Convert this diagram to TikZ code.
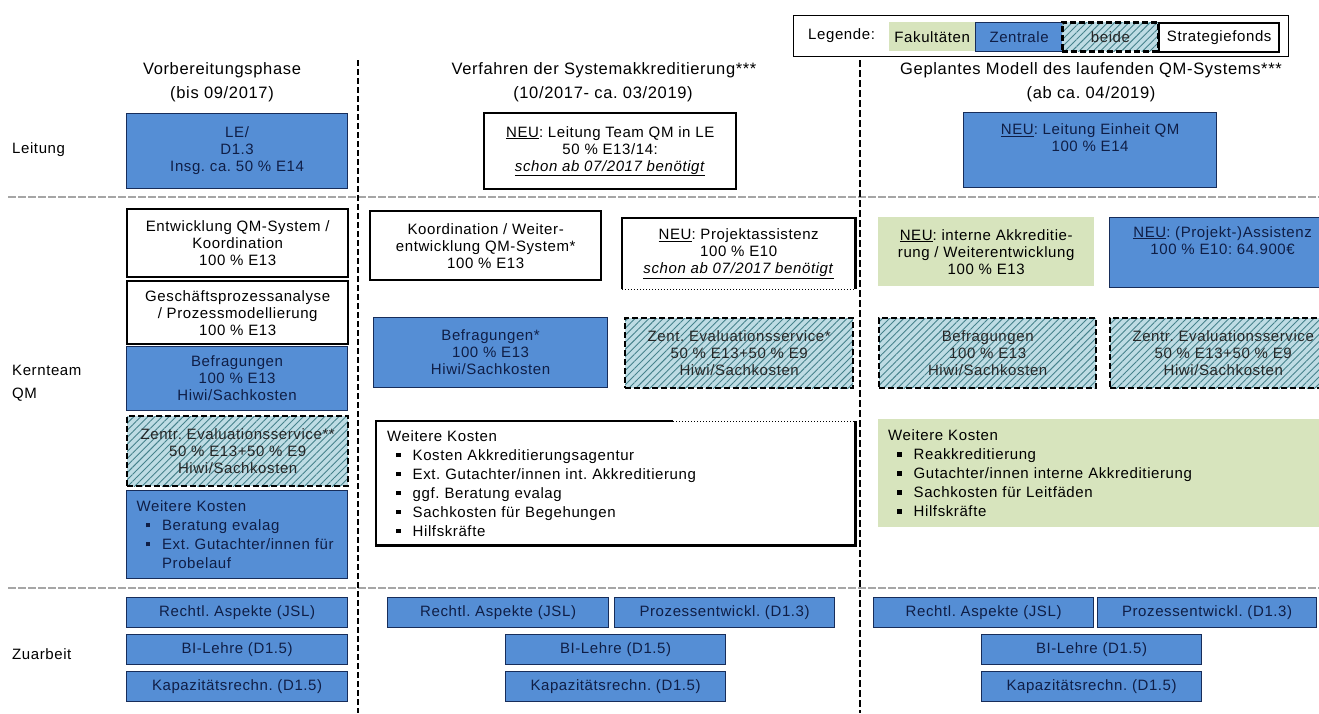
\documentclass[tikz,border=0pt]{standalone}
\usepackage{fontspec}
\setmainfont{Liberation Sans}[LetterSpace=4]
\usetikzlibrary{patterns.meta}
\frenchspacing

\definecolor{zblau}{RGB}{85,142,213}
\definecolor{zrand}{RGB}{23,45,90}
\definecolor{ztext}{RGB}{15,30,70}
\definecolor{fgruen}{RGB}{215,228,189}
\definecolor{hgrund}{RGB}{190,220,228}
\definecolor{hlinie}{RGB}{70,130,140}

\newcommand\boxfont{\fontsize{15}{17}\selectfont}
\newcommand\listfont{\fontsize{15}{19}\selectfont}
\newcommand\headfont{\fontsize{16.5}{24}\selectfont}
\newcommand\qmbullet{\rule[3pt]{4.5pt}{4.5pt}}
\newcommand\qmitem{\hspace*{9pt}\qmbullet\hspace{12pt}}

\begin{document}
\begin{tikzpicture}[x=1pt, y=-1pt,
zen/.style={rectangle, draw=zrand, line width=1.2pt, fill=zblau, text=ztext, font=\boxfont, align=center, inner sep=2pt, anchor=north west},
fak/.style={rectangle, fill=fgruen, font=\boxfont, align=center, inner sep=2pt, anchor=north west},
beide/.style={rectangle, draw=black, line width=2.4pt, dash pattern=on 6pt off 3pt, preaction={fill=hgrund}, pattern color=hlinie, pattern={Lines[angle=45,distance=5pt,line width=0.9pt]}, text=black!85, font=\boxfont, align=center, inner sep=2pt, anchor=north west},
strat/.style={rectangle, draw=black, line width=2.4pt, fill=white, font=\boxfont, align=center, inner sep=2pt, anchor=north west},
lab/.style={font=\boxfont, inner sep=0pt},
head/.style={font=\headfont, inner sep=0pt},
spalte/.style={draw=black, line width=2.6pt, dash pattern=on 6pt off 3pt},
trenn/.style={draw=black!35, line width=1.5pt, dash pattern=on 8pt off 2pt}]

\useasboundingbox (0,0) rectangle (1319,713);
\clip (0,0) rectangle (1319,713);

% Trennlinien
\coordinate (v1o) at (358,60); \coordinate (v1u) at (358,713);
\coordinate (v2o) at (860,60); \coordinate (v2u) at (860,713);
\coordinate (h1l) at (8,197); \coordinate (h1r) at (1319,197);
\coordinate (h2l) at (8,588); \coordinate (h2r) at (1319,588);
\draw[trenn] (h1l) -- (h1r);
\draw[trenn] (h2l) -- (h2r);
\draw[spalte] (v1o) -- (v1u);
\draw[spalte, line width=1.1pt, dash pattern=on 7pt off 3pt] (v2o) -- (v2u);

% Legende
\node[rectangle, draw=black, line width=1.3pt, minimum width=495pt, minimum height=41pt, anchor=north west] at (793,15) (legende) {};
\node[lab, anchor=west] at (808,35.5) (legtxt) {Legende:};
\node[fak, minimum width=86pt, minimum height=29pt] at (889,22) (legfak) {Fakultäten};
\node[zen, minimum width=87pt, minimum height=29pt] at (975,22) (legzen) {Zentrale};
\node[beide, minimum width=96pt, minimum height=29pt] at (1062,22) (legbeide) {beide};
\node[strat, minimum width=120pt, minimum height=29pt] at (1158,22) (legstrat) {Strategiefonds};

% Spaltenkoepfe
\node[head] at (222,70) (kopf1) {Vorbereitungsphase};
\node[head] at (222,94) (zeit1) {(bis 09/2017)};
\node[head] at (604,70) (kopf2) {Verfahren der Systemakkreditierung***};
\node[head] at (603,94) (zeit2) {(10/2017- ca. 03/2019)};
\node[head] at (1091,70) (kopf3) {Geplantes Modell des laufenden QM-Systems***};
\node[head] at (1091,94) (zeit3) {(ab ca. 04/2019)};

% Zeilen
\node[lab, anchor=west] at (12,150) (leitung) {Leitung};
\node[lab, anchor=west, align=left] at (12,383) (kernteam) {Kernteam\\[6pt]QM};
\node[lab, anchor=west] at (12,654) (zuarbeit) {Zuarbeit};

% Leitung
\node[zen, minimum width=221pt, minimum height=75pt] at (126,113) (le) {LE/\\D1.3\\Insg. ca. 50 \% E14};
\node[strat, minimum width=252pt, minimum height=76pt] at (483,112) (leitteam) {\underline{NEU}: Leitung Team QM in LE\\50 \% E13/14:\\\underline{\textit{schon ab 07/2017 benötigt}}};
\node[zen, minimum width=253pt, minimum height=75pt] at (963,112) (leiteinheit) {\underline{NEU}: Leitung Einheit QM\\100 \% E14\\[8pt]~};

% Kernteam QM, Vorbereitung
\node[strat, minimum width=221pt, minimum height=68pt] at (126,208) (entw) {Entwicklung QM-System /\\Koordination\\100 \% E13};
\node[strat, minimum width=221pt, minimum height=63pt] at (126,280) (gpa) {Geschäftsprozessanalyse\\/ Prozessmodellierung\\100 \% E13};
\node[zen, minimum width=221pt, minimum height=64pt] at (126,346) (befr1) {Befragungen\\100 \% E13\\Hiwi/Sachkosten};
\node[beide, minimum width=221pt, minimum height=70pt] at (126,415) (eval1) {Zentr. Evaluationsservice**\\50 \% E13+50 \% E9\\Hiwi/Sachkosten};
\node[zen, minimum width=221pt, minimum height=88pt, text width=201pt, align=left, font=\listfont] at (126,490) (wk1) {Weitere Kosten\\\qmitem Beratung evalag\\\qmitem Ext. Gutachter/innen für\\\hspace*{25.5pt}Probelauf};

% Kernteam QM, Systemakkreditierung
\node[strat, minimum width=231pt, minimum height=69pt] at (369,210) (koord) {Koordination / Weiter-\\entwicklung QM-System*\\100 \% E13};
\node[strat, draw=none, minimum width=231pt, minimum height=69pt] at (622,218) (projass) {\underline{NEU}: Projektassistenz\\100 \% E10\\\underline{\textit{schon ab 07/2017 benötigt}}};
\draw[line width=2.4pt] (projass.south west) -- (projass.north west) -- (projass.north east) -- (projass.south east);
\draw[line width=1pt, dotted] (projass.south west) -- (projass.south east);
\node[zen, minimum width=234pt, minimum height=70pt] at (373,317) (befr2) {Befragungen*\\100 \% E13\\Hiwi/Sachkosten};
\node[beide, minimum width=228pt, minimum height=70pt] at (624,317) (eval2) {Zent. Evaluationsservice*\\50 \% E13+50 \% E9\\Hiwi/Sachkosten};
\node[strat, draw=none, minimum width=477pt, minimum height=122pt, text width=457pt, align=left, font=\listfont] at (376,421) (wk2) {Weitere Kosten\\\qmitem Kosten Akkreditierungsagentur\\\qmitem Ext. Gutachter/innen int. Akkreditierung\\\qmitem ggf. Beratung evalag\\\qmitem Sachkosten für Begehungen\\\qmitem Hilfskräfte};
\coordinate (wk2knick) at (673,421);
\draw[line width=2.4pt] (wk2knick) -- (wk2.north west) -- (wk2.south west) -- (wk2.south east) -- (wk2.north east);
\draw[line width=1pt, dotted] (wk2knick) -- (wk2.north east);

% Kernteam QM, laufendes System
\node[fak, minimum width=216pt, minimum height=69pt] at (878,217) (intakk) {\underline{NEU}: interne Akkreditie-\\rung / Weiterentwicklung\\100 \% E13};
\node[zen, minimum width=226pt, minimum height=70pt] at (1109,217) (assist) {\underline{NEU}: (Projekt-)Assistenz\\100 \% E10: 64.900€\\[8pt]~};
\node[beide, minimum width=217pt, minimum height=70pt] at (878,317) (befr3) {Befragungen\\100 \% E13\\Hiwi/Sachkosten};
\node[beide, minimum width=226pt, minimum height=70pt] at (1109,317) (eval3) {Zentr. Evaluationsservice\\50 \% E13+50 \% E9\\Hiwi/Sachkosten};
\node[fak, minimum width=457pt, minimum height=108pt, text width=437pt, align=left, font=\listfont] at (878,419) (wk3) {Weitere Kosten\\\qmitem Reakkreditierung\\\qmitem Gutachter/innen interne Akkreditierung\\\qmitem Sachkosten für Leitfäden\\\qmitem Hilfskräfte};

% Zuarbeit
\node[zen, minimum width=221pt, minimum height=30pt] at (126,597) (recht1) {Rechtl. Aspekte (JSL)};
\node[zen, minimum width=221pt, minimum height=30pt] at (126,634) (bi1) {BI-Lehre (D1.5)};
\node[zen, minimum width=221pt, minimum height=30pt] at (126,671) (kap1) {Kapazitätsrechn. (D1.5)};

\node[zen, minimum width=221pt, minimum height=30pt] at (387,597) (recht2) {Rechtl. Aspekte (JSL)};
\node[zen, minimum width=220pt, minimum height=30pt] at (614,597) (proz2) {Prozessentwickl. (D1.3)};
\node[zen, minimum width=220pt, minimum height=30pt] at (505,634) (bi2) {BI-Lehre (D1.5)};
\node[zen, minimum width=220pt, minimum height=30pt] at (505,671) (kap2) {Kapazitätsrechn. (D1.5)};

\node[zen, minimum width=220pt, minimum height=30pt] at (873,597) (recht3) {Rechtl. Aspekte (JSL)};
\node[zen, minimum width=219pt, minimum height=30pt] at (1097,597) (proz3) {Prozessentwickl. (D1.3)};
\node[zen, minimum width=220pt, minimum height=30pt] at (981,634) (bi3) {BI-Lehre (D1.5)};
\node[zen, minimum width=220pt, minimum height=30pt] at (981,671) (kap3) {Kapazitätsrechn. (D1.5)};
\end{tikzpicture}
\end{document}
